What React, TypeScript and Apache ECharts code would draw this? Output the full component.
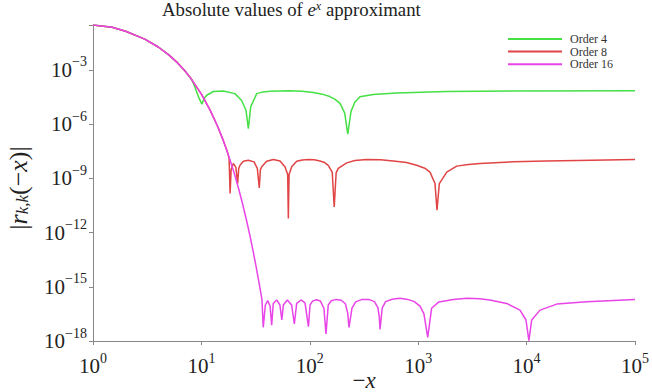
import React, { useEffect, useRef } from 'react';
import * as echarts from 'echarts';

const seriesNames = ['Order 4', 'Order 8', 'Order 16'];
const seriesColors = ['#44e044', '#e04444', '#e844e8'];
const xTickExponents = [0, 1, 2, 3, 4, 5];
const yTickExponents = [-18, -15, -12, -9, -6, -3];

const order4: number[][] = [
  [1, 0.30], [1.5, 0.224], [2, 0.135], [3, 0.05], [4, 0.0182], [5, 6.7e-3], [6, 2.48e-3], [7, 9.1e-4],
  [8, 3.3e-4], [8.5, 1.65e-4], [9.4, 3.2e-5], [10.1, 1.26e-5], [10.6, 2.6e-5], [11.2, 3.9e-5],
  [12.9, 6.3e-5], [15.9, 6.8e-5], [20.4, 4.8e-5], [23.5, 2.0e-5], [25.8, 5.8e-6], [27.1, 5.6e-7],
  [28.5, 8.9e-6], [32.4, 4.8e-5], [37, 6.0e-5], [43, 6.6e-5], [65, 6.9e-5], [85, 6.5e-5], [108, 5.6e-5],
  [130, 4.5e-5], [153, 3.3e-5], [170, 2.4e-5],
  [190, 1.4e-5], [210, 4e-6], [224, 2.75e-7], [240, 5e-6], [260, 1.6e-5], [290, 3.2e-5],
  [385, 4.3e-5], [630, 5.2e-5], [1830, 6.3e-5], [7500, 6.8e-5], [100000, 6.9e-5],
];

const order8: number[][] = [
  [1, 0.30], [1.5, 0.224], [2, 0.135], [3, 0.05], [4, 0.0182], [5, 6.7e-3], [6, 2.48e-3], [7, 9.1e-4],
  [8, 3.35e-4], [10, 4.5e-5], [12, 6.1e-6], [14, 8.3e-7], [16, 1.13e-7], [17.2, 3.4e-8], [18.0, 1.3e-8],
  [18.4, 1.45e-10], [18.8, 3.0e-9], [19.7, 6.6e-9], [20.8, 4.0e-9], [21.6, 5.1e-10], [22.1, 3.5e-9],
  [22.7, 5.2e-9], [24.4, 8.7e-9], [27.1, 1.0e-8], [30.6, 8.1e-9], [32.8, 3.5e-9], [34.2, 2.95e-10],
  [35.0, 3.0e-9], [36.0, 4.3e-9], [40, 8.7e-9], [46.1, 1.1e-8], [53.1, 9.1e-9], [59, 4.3e-9],
  [62.5, 1.6e-9], [63.4, 6.0e-12], [64.4, 1.6e-9], [68.1, 4.3e-9], [75.7, 8.7e-9], [85, 1.02e-8],
  [96.9, 1.1e-8], [110, 1.05e-8], [124, 9.1e-9], [137, 7.4e-9], [148, 5.2e-9], [161, 2.2e-9],
  [168, 2.6e-11], [175, 2.0e-9], [183, 3.5e-9], [219, 7.1e-9], [260, 9.5e-9], [335, 1.1e-8],
  [450, 1.05e-8], [589, 9.1e-9], [780, 7.4e-9], [968, 5.2e-9], [1150, 3.6e-9], [1285, 2.2e-9],
  [1429, 5.1e-10], [1490, 1.74e-11], [1567, 5.1e-10], [1833, 2.2e-9], [2265, 4.7e-9], [2900, 5.8e-9],
  [3715, 6.6e-9], [7540, 8.1e-9], [15300, 9.1e-9], [40000, 1.0e-8], [100000, 1.1e-8],
];

const order16: number[][] = [
  [1, 0.30], [1.5, 0.224], [2, 0.135], [3, 0.05], [4, 0.0182], [5, 6.7e-3], [6, 2.48e-3], [7, 9.1e-4],
  [8, 3.35e-4], [10, 4.5e-5], [12, 6.1e-6], [14, 8.3e-7], [16, 1.13e-7], [18, 1.52e-8], [20, 2.06e-9],
  [22, 2.8e-10], [24, 3.8e-11], [26, 5.1e-12], [28, 6.9e-13], [30, 9.4e-14], [32, 1.27e-14],
  [34, 1.7e-15], [36.2, 2.0e-16],
  [37.2, 5.7e-18], [38.9, 9.8e-17], [40.9, 1.7e-16], [43, 8.7e-17],
  [44.5, 7.6e-18], [46, 1.2e-16], [49.5, 1.86e-16], [53, 9.8e-17],
  [55.2, 1.45e-17], [57, 9.8e-17], [62, 1.86e-16], [68, 9.8e-17],
  [72, 8.7e-18], [75.7, 1.2e-16], [83, 1.86e-16], [90.3, 1.3e-16],
  [97.2, 6.2e-18], [100.5, 9.8e-17], [106, 1.6e-16], [115, 1.9e-16], [125, 1.65e-16], [135, 6.5e-17],
  [141, 2.45e-18], [148, 9.8e-17], [158, 1.7e-16], [175, 2.0e-16], [195, 1.8e-16], [213, 1.15e-16], [224, 3.4e-17],
  [230, 5.7e-18], [245, 6.5e-17], [265, 1.45e-16], [300, 1.95e-16], [350, 2.0e-16], [395, 1.5e-16], [425, 7.0e-17], [438, 2.0e-17],
  [445, 4.3e-18], [465, 6.5e-17], [500, 1.5e-16], [575, 2.05e-16], [679, 2.3e-16], [800, 2.0e-16], [920, 1.5e-16], [1040, 8.5e-17],
  [1130, 3.2e-17],
  [1224, 1.6e-18], [1330, 6.5e-17], [1550, 1.45e-16], [2109, 2.0e-16], [2800, 2.3e-16], [3700, 2.15e-16], [4590, 1.86e-16], [6550, 1.2e-16],
  [8690, 5.1e-17], [9870, 1.45e-17],
  [10500, 1.05e-18], [11140, 1.45e-17], [13300, 5.1e-17], [18970, 1.1e-16], [35800, 1.48e-16],
  [100000, 2.0e-16],
];

const seriesData = [order4, order8, order16];

export default function App() {
  const ref = useRef<HTMLDivElement>(null);
  useEffect(() => {
    const chart = echarts.init(ref.current!, null, { renderer: 'svg' });
    const serif = "'Liberation Serif', 'DejaVu Serif', serif";
    const ink = '#222';
    const axisGray = '#888';
    const fmt = (allowed: number[]) => (v: number) => {
      const l = Math.log10(v);
      const e = Math.round(l);
      if (Math.abs(l - e) > 1e-6 || allowed.indexOf(e) < 0) return '';
      return `{b|10}{s|${e < 0 ? '\u2212' : ''}${Math.abs(e)}}`;
    };
    const labelRich = {
      b: { fontSize: 21, lineHeight: 30, fontFamily: serif, color: ink },
      s: { fontSize: 14, lineHeight: 14, verticalAlign: 'top', fontFamily: serif, color: ink },
    };
    chart.setOption({
      animation: false,
      backgroundColor: '#fff',
      title: {
        text: '{n|Absolute values of }{i|e}{sup|x}{n| approximant}',
        left: 162,
        top: 0,
        padding: 0,
        textStyle: {
          fontWeight: 'normal',
          rich: {
            n: { fontSize: 18.8, lineHeight: 18, fontFamily: serif, fontWeight: 'normal', color: ink },
            i: { fontSize: 18.8, lineHeight: 18, fontFamily: serif, fontWeight: 'normal', fontStyle: 'italic', color: ink },
            sup: { fontSize: 12, lineHeight: 11, verticalAlign: 'top', fontFamily: serif, fontWeight: 'normal', fontStyle: 'italic', color: ink },
          },
        },
      },
      legend: {
        orient: 'vertical',
        left: 508,
        top: 33,
        padding: 0,
        itemWidth: 54,
        itemHeight: 2,
        itemGap: 0.6,
        icon: 'rect',
        data: seriesNames,
        textStyle: { fontFamily: serif, fontSize: 12, lineHeight: 12, color: '#333', padding: [0, 0, 0, 3] },
      },
      grid: { left: 93, right: 17, top: 25, bottom: 51, outerBoundsMode: 'none', containLabel: false },
      xAxis: {
        type: 'log',
        logBase: 10,
        min: 1,
        max: 100000,
        interval: 1,
        name: '{n|\u2212}{i|x}',
        nameLocation: 'middle',
        nameGap: 29,
        nameMoveOverlap: false,
        nameTextStyle: {
          lineHeight: 20,
          rich: {
            n: { fontSize: 23, lineHeight: 20, fontFamily: serif, color: ink },
            i: { fontSize: 23, lineHeight: 20, fontFamily: serif, fontStyle: 'italic', color: ink },
          },
        },
        axisLine: { lineStyle: { color: axisGray, width: 1 } },
        axisTick: { length: 4, lineStyle: { color: axisGray } },
        axisLabel: { formatter: fmt(xTickExponents), rich: labelRich, margin: 10 },
        splitLine: { show: false },
        minorTick: { show: false },
      },
      yAxis: {
        type: 'log',
        logBase: 10,
        min: 1e-18,
        max: 0.3,
        interval: 3,
        name: '|{i|r}{sub|k,k}{n|(\u2212}{i|x}{n|)}|',
        nameLocation: 'middle',
        nameRotate: 90,
        nameGap: 62,
        nameMoveOverlap: false,
        nameTextStyle: {
          fontSize: 26,
          fontFamily: serif,
          color: ink,
          padding: [0, 10, 0, 0],
          rich: {
            n: { fontSize: 26, fontFamily: serif, color: ink },
            i: { fontSize: 26, fontFamily: serif, fontStyle: 'italic', color: ink },
            sub: { fontSize: 17, fontFamily: serif, fontStyle: 'italic', color: ink, verticalAlign: 'bottom', lineHeight: 16 },
          },
        },
        axisLine: { show: true, lineStyle: { color: axisGray, width: 1 } },
        axisTick: { show: true, length: 4, lineStyle: { color: axisGray } },
        axisLabel: { formatter: fmt(yTickExponents), rich: labelRich, margin: 6 },
        splitLine: { show: false },
        minorTick: { show: false },
      },
      series: seriesData.map((d, i) => ({
        name: seriesNames[i],
        type: 'line',
        data: d,
        showSymbol: false,
        symbol: 'none',
        color: seriesColors[i],
        lineStyle: { width: 1.5, color: seriesColors[i] },
        clip: true,
        z: 2 + i,
      })),
    });
    return () => chart.dispose();
  }, []);
  return <div ref={ref} style={{ position: 'fixed', left: 0, top: 0, width: 652, height: 392 }} />;
}
